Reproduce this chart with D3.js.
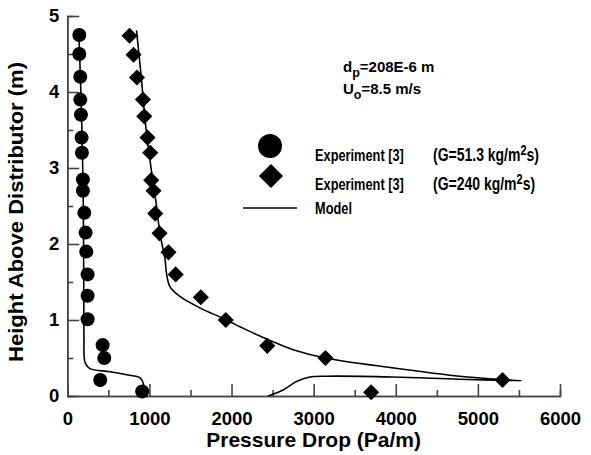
<!DOCTYPE html>
<html>
<head>
<meta charset="utf-8">
<script src="https://cdn.jsdelivr.net/npm/d3@7"></script>
<style>
  body { margin: 0; background: #fff; }
  text { font-family: "Liberation Sans", Arial, sans-serif; font-weight: bold; fill: #000; }
</style>
</head>
<body>
<svg id="chart" width="591" height="455"></svg>
<script>
const xTicks = [0, 1000, 2000, 3000, 4000, 5000, 6000]
const xMinor = [500, 1500, 2500, 3500, 4500, 5500]
const yTicks = [0, 1, 2, 3, 4, 5]
const yMinor = [0.5, 1.5, 2.5, 3.5, 4.5]

// experiment [3], G=51.3 kg/m2s  [pressure drop, height]
const expLowG = [
  [146, 4.75], [146, 4.5], [158, 4.2], [158, 3.9], [166, 3.7], [174, 3.4],
  [178, 3.2], [190, 2.85], [190, 2.7], [207, 2.41], [223, 2.15], [231, 1.9],
  [247, 1.6], [247, 1.32], [247, 1.01], [430, 0.67], [450, 0.5], [401, 0.21],
  [912, 0.06],
]

// experiment [3], G=240 kg/m2s
const expHighG = [
  [758, 4.74], [807, 4.49], [848, 4.19], [921, 3.9], [937, 3.68], [977, 3.4],
  [1010, 3.2], [1022, 2.84], [1050, 2.7], [1071, 2.4], [1123, 2.14],
  [1232, 1.89], [1320, 1.6], [1626, 1.3], [1930, 1.0], [2435, 0.66],
  [3144, 0.5], [5300, 0.21], [3700, 0.05],
]

// model curves
const modelLowG = [
  [138, 4.81], [150, 4.5], [165, 4.0], [178, 3.5], [188, 3.0], [195, 2.5],
  [198, 2.0], [200, 1.5], [202, 1.0], [203, 0.7], [205, 0.52], [220, 0.43],
  [276, 0.36], [520, 0.32], [722, 0.28], [885, 0.24], [925, 0.17],
  [937, 0.06], [940, 0.0],
]
const modelHighG = [
  [843, 4.81], [900, 4.2], [960, 3.5], [1020, 3.0], [1080, 2.55],
  [1128, 2.14], [1168, 1.92], [1190, 1.8], [1210, 1.6], [1250, 1.44],
  [1371, 1.31], [1614, 1.16], [1898, 1.02], [2182, 0.87], [2580, 0.68],
  [2750, 0.61], [3144, 0.5], [3966, 0.37], [4778, 0.26], [5377, 0.21],
  [5528, 0.2], [4778, 0.22], [3966, 0.25], [3156, 0.26], [2953, 0.25],
  [2791, 0.19], [2628, 0.08], [2445, 0.0],
]

const margins = {left: 67.3, top: 16, right: 31, bottom: 59}
const width = 591
const height = 455
const axisColor = '#444'

const svg = d3.select('#chart')

const x = d3.scaleLinear()
  .domain([0, 6000])
  .range([margins.left, width - margins.right])
const y = d3.scaleLinear()
  .domain([0, 5])
  .range([height - margins.bottom, margins.top])

const styleAxis = g => {
  g.attr('font-family', null).attr('font-size', 18.5)
  g.selectAll('.domain, line')
    .attr('stroke', axisColor)
    .attr('stroke-width', 1.6)
  g.selectAll('text').attr('fill', '#000')
}

// axes, ticks pointing into the plot
svg.append('g')
  .attr('transform', `translate(0,${y(0)})`)
  .call(d3.axisBottom(x).tickValues(xMinor).tickSize(-6).tickFormat(''))
  .call(styleAxis)
svg.append('g')
  .attr('transform', `translate(0,${y(0)})`)
  .call(d3.axisBottom(x).tickValues(xTicks).tickSize(-12).tickSizeOuter(0)
    .tickPadding(16).tickFormat(d3.format('d')))
  .call(styleAxis)

svg.append('g')
  .attr('transform', `translate(${x(0)},0)`)
  .call(d3.axisLeft(y).tickValues(yMinor).tickSize(-6).tickFormat(''))
  .call(styleAxis)
svg.append('g')
  .attr('transform', `translate(${x(0)},0)`)
  .call(d3.axisLeft(y).tickValues(yTicks).tickSize(-12).tickSizeOuter(0)
    .tickPadding(8).tickFormat(d3.format('d')))
  .call(styleAxis)

// axis titles
svg.append('text')
  .attr('x', (x(0) + x(6000)) / 2)
  .attr('y', 447)
  .attr('text-anchor', 'middle')
  .attr('font-size', 21)
  .text('Pressure Drop (Pa/m)')

svg.append('text')
  .attr('transform', `translate(23,212) rotate(-90)`)
  .attr('text-anchor', 'middle')
  .attr('font-size', 20)
  .attr('textLength', 300)
  .attr('lengthAdjust', 'spacingAndGlyphs')
  .text('Height Above Distributor (m)')

// model lines
const line = d3.line()
  .x(d => x(d[0]))
  .y(d => y(d[1]))
  .curve(d3.curveCatmullRom.alpha(0.5))

svg.append('g')
  .attr('fill', 'none')
  .attr('stroke', '#000')
  .attr('stroke-width', 1.6)
  .selectAll('path')
  .data([modelLowG, modelHighG])
  .join('path')
  .attr('d', line)

// experiment markers
svg.append('g')
  .selectAll('circle')
  .data(expLowG)
  .join('circle')
  .attr('cx', d => x(d[0]))
  .attr('cy', d => y(d[1]))
  .attr('r', 7)
  .attr('fill', '#000')

const diamond = d3.symbol().type(d3.symbolSquare).size(130)
svg.append('g')
  .selectAll('path')
  .data(expHighG)
  .join('path')
  .attr('transform', d => `translate(${x(d[0])},${y(d[1])}) rotate(45)`)
  .attr('d', diamond)
  .attr('fill', '#000')

// annotation
const note = svg.append('g').attr('font-size', 15)
const n1 = note.append('text').attr('x', 343).attr('y', 72)
n1.append('tspan').text('d')
n1.append('tspan').attr('font-size', 12.5).attr('dy', 5).text('p')
n1.append('tspan').attr('dy', -5).text('=208E-6 m')
const n2 = note.append('text').attr('x', 343).attr('y', 94)
n2.append('tspan').text('U')
n2.append('tspan').attr('font-size', 12.5).attr('dy', 5).text('o')
n2.append('tspan').attr('dy', -5).text('=8.5 m/s')

// legend
const legend = svg.append('g')
legend.append('circle')
  .attr('cx', 270).attr('cy', 146).attr('r', 12).attr('fill', '#000')
legend.append('path')
  .attr('transform', 'translate(271,176) rotate(45)')
  .attr('d', d3.symbol().type(d3.symbolSquare).size(290))
  .attr('fill', '#000')
legend.append('line')
  .attr('x1', 243).attr('x2', 297).attr('y1', 208).attr('y2', 208)
  .attr('stroke', '#000').attr('stroke-width', 1.6)

const legendRows = [
  {y: 161, label: 'Experiment [3]', g: '(G=51.3 kg/m'},
  {y: 190, label: 'Experiment [3]', g: '(G=240 kg/m'},
  {y: 214, label: 'Model', g: null},
]
legendRows.forEach(r => {
  const t = legend.append('text')
    .attr('transform', `translate(315,${r.y}) scale(1,1.3)`)
    .attr('font-size', 12.8)
  t.append('tspan').text(r.label)
  if (r.g) {
    t.append('tspan').attr('x', 118).attr('font-size', 14).text(r.g)
    t.append('tspan').attr('font-size', 11).attr('dy', -5).text('2')
    t.append('tspan').attr('font-size', 14).attr('dy', 5).text('s)')
  }
})
</script>
</body>
</html>
